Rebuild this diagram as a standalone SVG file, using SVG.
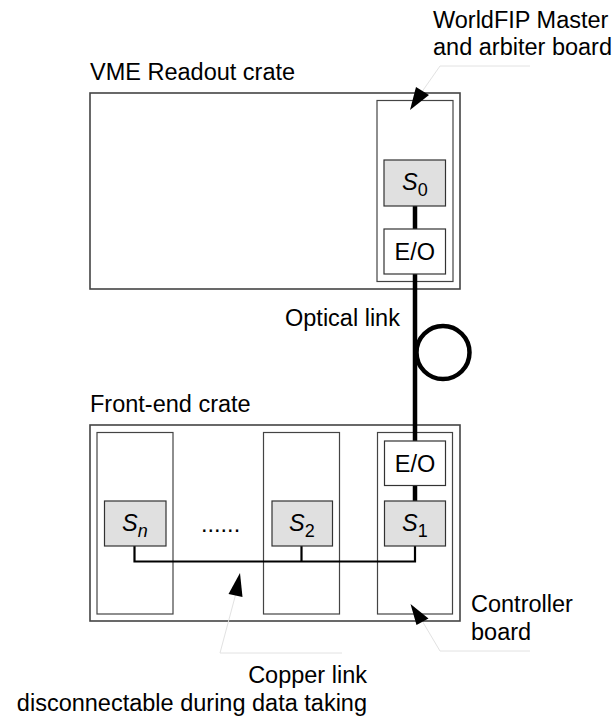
<svg xmlns="http://www.w3.org/2000/svg" width="616" height="718" viewBox="0 0 616 718">
<style>
text{font-family:"Liberation Sans",Arial,sans-serif;font-size:23.5px;fill:#000}
.crate{fill:#fff;stroke:#444;stroke-width:1.6}
.slot{fill:none;stroke:#444;stroke-width:1.2}
.sbox{fill:#e0e0e0;stroke:#333;stroke-width:1.2}
.eo{fill:#fff;stroke:#333;stroke-width:1.2}
.optic{fill:none;stroke:#000;stroke-width:4.5}
.bus{fill:none;stroke:#000;stroke-width:2.2}
.leader{fill:none;stroke:#e2e2e2;stroke-width:1}
.it{font-style:italic}
.sub{font-size:18px}
</style>
<g id="labels">
<text x="433" y="28">WorldFIP Master</text>
<text x="433" y="55">and arbiter board</text>
<text x="90" y="80">VME Readout crate</text>
<text x="285" y="326">Optical link</text>
<text x="90" y="412">Front-end crate</text>
<text x="471" y="612">Controller</text>
<text x="471" y="640">board</text>
<text x="367" y="683" text-anchor="end">Copper link</text>
<text x="367" y="711" text-anchor="end">disconnectable during data taking</text>
</g>
<g id="vme-crate">
<rect class="crate" x="90" y="93" width="370" height="196"/>
</g>
<g id="master-board">
<rect class="slot" x="377" y="100.5" width="76" height="181"/>
</g>
<g id="fe-crate">
<rect class="crate" x="90" y="425" width="370" height="196"/>
</g>
<g id="slot-n"><rect class="slot" x="97" y="432.5" width="76" height="181.5"/></g>
<g id="slot-2"><rect class="slot" x="263.5" y="432.5" width="76" height="181.5"/></g>
<g id="controller-board"><rect class="slot" x="377.5" y="432.5" width="75" height="181.5"/></g>
<g id="connectors">
<line class="optic" x1="415" y1="206" x2="415" y2="229"/>
<line class="optic" x1="415" y1="274" x2="415" y2="441"/>
<circle class="optic" cx="443" cy="352.5" r="26.5"/>
<line class="optic" x1="415" y1="485.5" x2="415" y2="501"/>
<polyline class="bus" points="134.5,546 134.5,561.5 415,561.5 415,546"/>
<line class="bus" x1="301.5" y1="546" x2="301.5" y2="561.5"/>
<polyline class="leader" points="422.5,91 440,66 530,66"/>
<polyline class="leader" points="235.5,595 220,653 342,653"/>
<polyline class="leader" points="422.5,621.5 440,651 530,651"/>
<polygon points="410,110 416,87 429,95" fill="#000"/>
<polygon points="240,573 228.5,594 242.5,597" fill="#000"/>
<polygon points="410.5,604 416.5,625 428.5,618.5" fill="#000"/>
</g>
<g id="s0">
<rect class="sbox" x="384" y="160" width="61.5" height="46"/>
<text x="402" y="190"><tspan class="it">S</tspan><tspan class="sub" dy="6">0</tspan></text>
</g>
<g id="eo-vme">
<rect class="eo" x="384" y="229" width="61.5" height="45"/>
<text x="414.75" y="260" text-anchor="middle">E/O</text>
</g>
<g id="eo-fe">
<rect class="eo" x="384.5" y="441" width="61" height="44.5"/>
<text x="415" y="472" text-anchor="middle">E/O</text>
</g>
<g id="s1">
<rect class="sbox" x="384.5" y="501" width="61" height="45"/>
<text x="402" y="531"><tspan class="it">S</tspan><tspan class="sub" dy="6">1</tspan></text>
</g>
<g id="s2">
<rect class="sbox" x="272" y="501" width="60.5" height="45"/>
<text x="289" y="531"><tspan class="it">S</tspan><tspan class="sub" dy="6">2</tspan></text>
</g>
<g id="sn">
<rect class="sbox" x="104.5" y="501" width="61.5" height="45"/>
<text x="122" y="531"><tspan class="it">S</tspan><tspan class="sub it" dy="6">n</tspan></text>
</g>
<g id="dots">
<text x="201" y="532">......</text>
</g>
</svg>
